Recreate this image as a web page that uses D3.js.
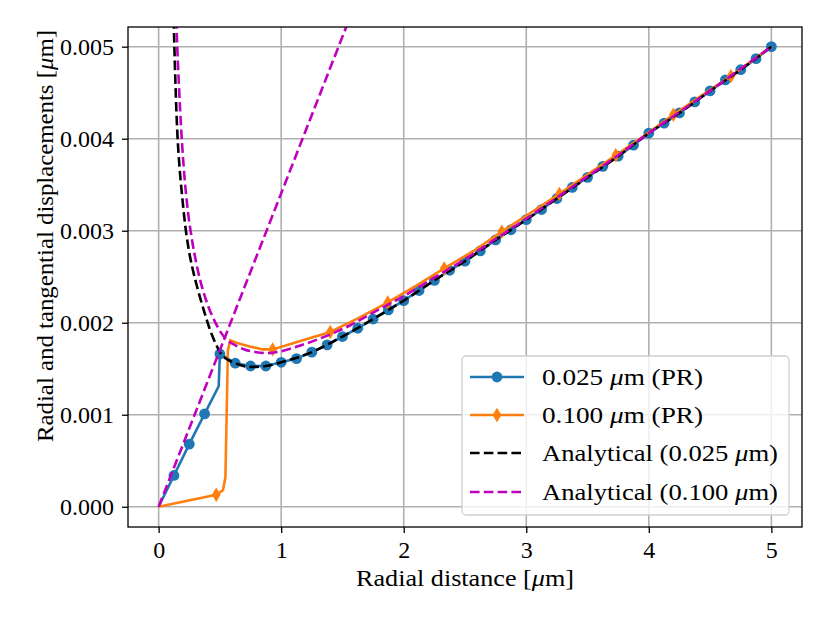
<!DOCTYPE html>
<html lang="en">
<head>
  <meta charset="UTF-8">
  <title>Radial displacements</title>
  <style>
    body { margin: 0; background: #fff; }
    text { font-family: "Liberation Serif", "Times New Roman", serif; fill: #000; }
  </style>
</head>
<body>
<svg width="830" height="623" id="viz"></svg>
<script src="https://d3js.org/d3.v7.min.js"></script>
<script>
/* global d3 */

// tick values
const xTicks = [0, 1, 2, 3, 4, 5];
const yTicks = [0, 0.001, 0.002, 0.003, 0.004, 0.005];

// 0.025 um (PR) - the 0.49 point is the kink, it has no marker
const blueX = [0, 0.125, 0.25, 0.375, 0.49, 0.5, 0.625, 0.75, 0.875, 1, 1.125, 1.25, 1.375,
  1.5, 1.625, 1.75, 1.875, 2, 2.125, 2.25, 2.375, 2.5, 2.625, 2.75, 2.875, 3, 3.125, 3.25,
  3.375, 3.5, 3.625, 3.75, 3.875, 4, 4.125, 4.25, 4.375, 4.5, 4.625, 4.75, 4.875, 5];
const blueY = [0, 0.00034, 0.00068, 0.00101, 0.00131, 0.00166, 0.00156, 0.00153, 0.00153,
  0.00157, 0.00161, 0.00168, 0.00176, 0.00185, 0.00194, 0.00204, 0.00214, 0.00224, 0.00235,
  0.00246, 0.00257, 0.00267, 0.00278, 0.0029, 0.00301, 0.00312, 0.00323, 0.00335, 0.00347,
  0.00358, 0.0037, 0.00381, 0.00393, 0.00406, 0.00417, 0.00428, 0.0044, 0.00452, 0.00464,
  0.00475, 0.00487, 0.005];
const blueNoMark = [0, 4];

// 0.100 um (PR)
const orangeX = [0, 0.47, 0.525, 0.545, 0.555, 0.565, 0.585, 0.64, 0.75, 0.85, 0.93, 1.15,
  1.4, 1.63, 1.87, 2.1, 2.33, 2.57, 2.8, 3.03, 3.27, 3.5, 3.73, 3.97, 4.2, 4.43, 4.67, 5];
const orangeY = [0, 0.00013, 0.00018, 0.00032, 0.001, 0.0017, 0.00181, 0.00178, 0.00174,
  0.00171, 0.00171, 0.0018, 0.0019, 0.00205, 0.00222, 0.0024, 0.00259, 0.00278, 0.00299,
  0.00319, 0.0034, 0.00361, 0.00382, 0.00404, 0.00426, 0.00447, 0.00468, 0.005];
const orangeMark = [1, 10, 12, 14, 16, 18, 20, 22, 24, 26];

// Analytical (0.025 um)
const blackX = [0.118, 0.125, 0.138, 0.152, 0.17, 0.19, 0.215, 0.245, 0.28, 0.32, 0.37, 0.42,
  0.47, 0.5, 0.55, 0.625, 0.75, 0.875, 1, 1.25, 1.5, 1.75, 2, 2.25, 2.5, 2.75, 3, 3.25, 3.5,
  3.75, 4, 4.25, 4.5, 4.75, 5];
const blackY = [0.0056, 0.00518, 0.00457, 0.00408, 0.0037, 0.0034, 0.00308, 0.0028, 0.00257,
  0.00236, 0.00213, 0.00192, 0.00176, 0.00168, 0.00161, 0.00156, 0.00152, 0.00153, 0.00157,
  0.00168, 0.00185, 0.00204, 0.00224, 0.00246, 0.00267, 0.0029, 0.00312, 0.00335, 0.00358,
  0.00381, 0.00406, 0.00428, 0.00452, 0.00475, 0.005];

// Analytical (0.100 um): outer branch and the straight inner branch
const magX = [0.138, 0.147, 0.166, 0.185, 0.21, 0.24, 0.27, 0.31, 0.36, 0.41, 0.46, 0.51,
  0.56, 0.62, 0.7, 0.8, 0.885, 1, 1.15, 1.3, 1.43, 1.56, 1.75, 2, 2.25, 2.5, 2.75, 3, 3.25,
  3.5, 3.75, 4, 4.25, 4.5, 4.75, 5];
const magY = [0.0056, 0.00518, 0.00457, 0.00408, 0.0036, 0.0032, 0.00292, 0.00263, 0.00236,
  0.00216, 0.00201, 0.00189, 0.00181, 0.00176, 0.00171, 0.00168, 0.00167, 0.00169, 0.00175,
  0.00182, 0.00189, 0.00197, 0.00211, 0.00229, 0.00249, 0.00269, 0.00291, 0.00313, 0.00336,
  0.00359, 0.00382, 0.00406, 0.00429, 0.00452, 0.00476, 0.005];
const magLineX = [0, 1.6];
const magLineY = [0, 0.00545];

const legendLabels = ["0.025 μm (PR)", "0.100 μm (PR)", "Analytical (0.025 μm)", "Analytical (0.100 μm)"];

const blue = "#1f77b4", orange = "#ff7f0e", magenta = "#bf00bf";
const lw = 2.6, dash = "9.6,4.2";

let svg = d3.select("#viz"),
  margin = {top: 27, right: 28, bottom: 96, left: 128},
  width = +svg.attr("width") - margin.left - margin.right,
  height = +svg.attr("height") - margin.top - margin.bottom,
  g = svg.append("g").attr("transform", "translate(" + margin.left + "," + margin.top + ")");

let x = d3.scaleLinear().domain([-0.25, 5.25]).range([0, width]);
let y = d3.scaleLinear().domain([-0.00022, 0.005214]).range([height, 0]);

svg.append("defs").append("clipPath").attr("id", "plotclip")
  .append("rect").attr("width", width).attr("height", height);

// grid
g.selectAll(".gx").data(xTicks).enter().append("line")
  .attr("x1", d => x(d)).attr("x2", d => x(d)).attr("y1", 0).attr("y2", height)
  .attr("stroke", "#b0b0b0").attr("stroke-width", 1.6);
g.selectAll(".gy").data(yTicks).enter().append("line")
  .attr("y1", d => y(d)).attr("y2", d => y(d)).attr("x1", 0).attr("x2", width)
  .attr("stroke", "#b0b0b0").attr("stroke-width", 1.6);

let plot = g.append("g").attr("clip-path", "url(#plotclip)");

function zip(xs, ys) { return xs.map((v, i) => [v, ys[i]]); }

let straight = d3.line().x(d => x(d[0])).y(d => y(d[1]));
let smooth = d3.line().x(d => x(d[0])).y(d => y(d[1])).curve(d3.curveMonotoneX);

// 0.025 PR
let bluePts = zip(blueX, blueY);
plot.append("path").attr("d", straight(bluePts))
  .attr("fill", "none").attr("stroke", blue).attr("stroke-width", lw);
plot.selectAll(".bdot").data(bluePts.filter((d, i) => blueNoMark.indexOf(i) < 0))
  .enter().append("circle")
  .attr("cx", d => x(d[0])).attr("cy", d => y(d[1])).attr("r", 5.4).attr("fill", blue);

// 0.100 PR
let orangePts = zip(orangeX, orangeY);
plot.append("path").attr("d", straight(orangePts))
  .attr("fill", "none").attr("stroke", orange).attr("stroke-width", lw);

function diamond(cx, cy) {
  return "M" + cx + "," + (cy - 7.2) + "L" + (cx + 4.4) + "," + cy + "L" + cx + "," + (cy + 7.2)
    + "L" + (cx - 4.4) + "," + cy + "Z";
}
plot.selectAll(".odot").data(orangeMark.map(i => orangePts[i]))
  .enter().append("path")
  .attr("d", d => diamond(x(d[0]), y(d[1]))).attr("fill", orange);

// analytical
plot.append("path").attr("d", smooth(zip(blackX, blackY)))
  .attr("fill", "none").attr("stroke", "#000").attr("stroke-width", lw)
  .attr("stroke-dasharray", dash);
plot.append("path").attr("d", smooth(zip(magX, magY)))
  .attr("fill", "none").attr("stroke", magenta).attr("stroke-width", lw)
  .attr("stroke-dasharray", dash);
plot.append("path").attr("d", straight(zip(magLineX, magLineY)))
  .attr("fill", "none").attr("stroke", magenta).attr("stroke-width", lw)
  .attr("stroke-dasharray", dash);

// axes
let xAxis = g.append("g").attr("transform", "translate(0," + height + ")")
  .call(d3.axisBottom(x).tickValues(xTicks).tickSize(6).tickPadding(8).tickFormat(d3.format("d")));
let yAxis = g.append("g")
  .call(d3.axisLeft(y).tickValues(yTicks).tickSize(6).tickPadding(8).tickFormat(d3.format(".3f")));
[xAxis, yAxis].forEach(a => {
  a.select(".domain").remove();
  a.selectAll(".tick line").attr("stroke", "#000").attr("stroke-width", 1.3);
  a.selectAll(".tick text").style("font-family", "Liberation Serif, Times New Roman, serif")
    .attr("font-size", 24);
});
xAxis.selectAll(".tick text").attr("dy", "0.71em").attr("y", 14);
yAxis.selectAll(".tick text").attr("x", -14).attr("dy", "0.33em");

g.append("rect").attr("width", width).attr("height", height)
  .attr("fill", "none").attr("stroke", "#000").attr("stroke-width", 1.3);

function muText(sel, label) {
  let parts = label.split("μ");
  sel.append("tspan").text(parts[0]);
  sel.append("tspan").attr("font-style", "italic").text("μ");
  sel.append("tspan").text(parts[1]);
}

// axis labels
let xl = svg.append("text").attr("x", margin.left + width / 2).attr("y", 586)
  .attr("text-anchor", "middle").attr("font-size", 24)
  .attr("textLength", 218).attr("lengthAdjust", "spacingAndGlyphs");
muText(xl, "Radial distance [μm]");

let yl = svg.append("text").attr("transform", "translate(53,236) rotate(-90)")
  .attr("text-anchor", "middle").attr("font-size", 24)
  .attr("textLength", 412).attr("lengthAdjust", "spacingAndGlyphs");
muText(yl, "Radial and tangential displacements [μm]");

// legend
let leg = svg.append("g");
leg.append("rect").attr("x", 462).attr("y", 356).attr("width", 327).attr("height", 159)
  .attr("rx", 4).attr("fill", "#fff").attr("fill-opacity", 0.8)
  .attr("stroke", "#d0d0d0").attr("stroke-width", 1.3);
const rowY = [377, 415, 453, 492];
const textLen = [161, 161, 236, 236];
const legStroke = [blue, orange, "#000", magenta];
legendLabels.forEach((lab, i) => {
  let ly = rowY[i];
  let ln = leg.append("line").attr("x1", 470).attr("x2", 524).attr("y1", ly).attr("y2", ly)
    .attr("stroke", legStroke[i]).attr("stroke-width", lw);
  if (i >= 2) ln.attr("stroke-dasharray", dash);
  if (i === 0) leg.append("circle").attr("cx", 497).attr("cy", ly).attr("r", 5.4).attr("fill", blue);
  if (i === 1) leg.append("path").attr("d", diamond(497, ly)).attr("fill", orange);
  let t = leg.append("text").attr("x", 542).attr("y", ly + 8).attr("font-size", 24)
    .attr("textLength", textLen[i]).attr("lengthAdjust", "spacingAndGlyphs");
  muText(t, lab);
});
</script>
</body>
</html>
